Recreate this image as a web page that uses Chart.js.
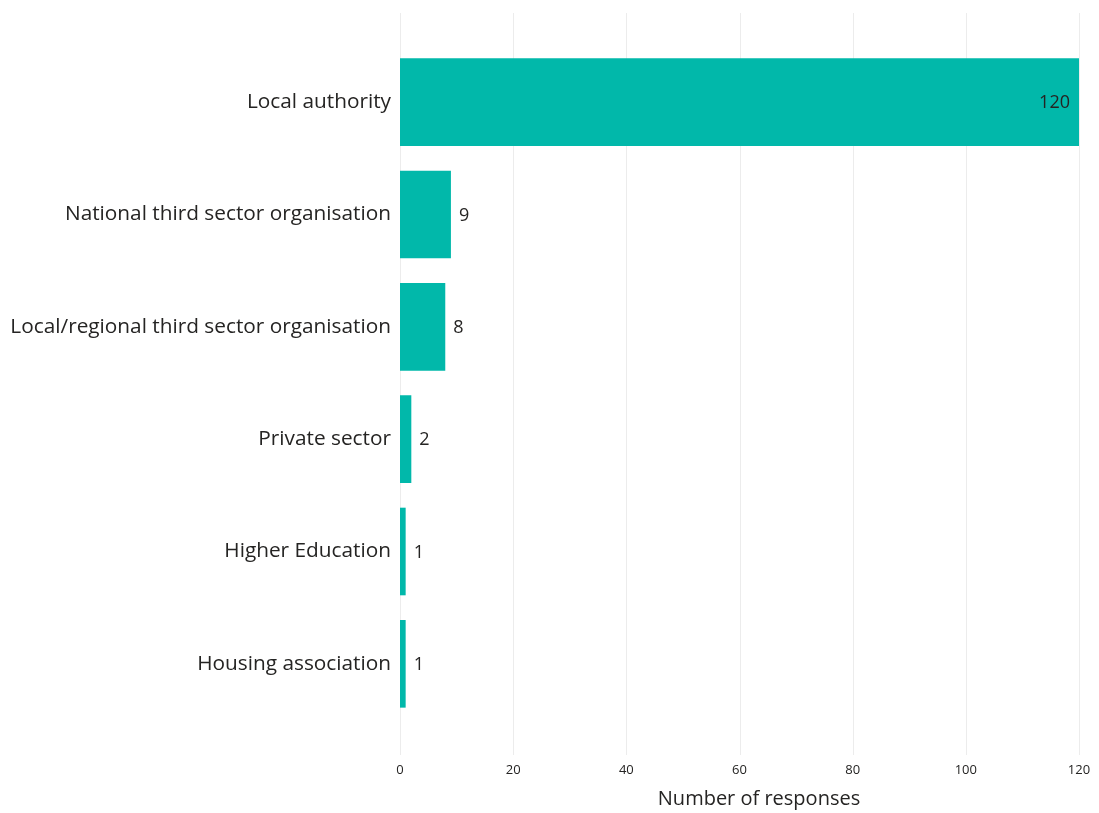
<!DOCTYPE html>
<html>
<head>
<meta charset="utf-8">
<script src="https://cdn.jsdelivr.net/npm/chart.js@4.4.1/dist/chart.umd.min.js"></script>
<style>
  html, body { margin: 0; padding: 0; background: #fff; }
  #wrap { width: 1099px; height: 813px; }
</style>
</head>
<body>
<div id="wrap"><canvas id="BarGraph" width="1099" height="813"></canvas></div>
<script>
// Respondent types and number of responses
var categories = [
    'Local authority',
    'National third sector organisation',
    'Local/regional third sector organisation',
    'Private sector',
    'Higher Education',
    'Housing association'
];
var responses = [120, 9, 8, 2, 1, 1];
var xTicks = [0, 20, 40, 60, 80, 100, 120];
var xTitle = 'Number of responses';

var FONT = "'Segoe UI', 'Open Sans', sans-serif";
var TEXT = '#252423';

// vertical gridlines that run a little past the bars at top and bottom
var gridPlugin = {
    id: 'longGrid',
    beforeDatasetsDraw: function(chart) {
        var c = chart.ctx, xs = chart.scales.x, area = chart.chartArea;
        c.save();
        c.strokeStyle = '#ececec';
        c.lineWidth = 1;
        xs.ticks.forEach(function(t) {
            var px = Math.round(xs.getPixelForValue(t.value)) + 0.5;
            c.beginPath();
            c.moveTo(px, area.top - 33);
            c.lineTo(px, area.bottom + 35);
            c.stroke();
        });
        c.restore();
    }
};

// value labels: inside the end of a long bar, just past the end otherwise
var labelPlugin = {
    id: 'valueLabels',
    afterDatasetsDraw: function(chart) {
        var c = chart.ctx;
        var meta = chart.getDatasetMeta(0);
        c.save();
        c.font = '18px ' + FONT;
        c.fillStyle = TEXT;
        c.textBaseline = 'middle';
        meta.data.forEach(function(bar, i) {
            var v = responses[i];
            if (bar.x - bar.base > 60) {
                c.textAlign = 'right';
                c.fillText(String(v), bar.x - 9, bar.y + 1);
            } else {
                c.textAlign = 'left';
                c.fillText(String(v), bar.x + 8, bar.y + 1);
            }
        });
        c.restore();
    }
};

// axis title, sitting under the tick labels
var titlePlugin = {
    id: 'xTitle',
    afterDraw: function(chart) {
        var c = chart.ctx;
        c.save();
        c.font = '20px ' + FONT;
        c.fillStyle = TEXT;
        c.textAlign = 'center';
        c.textBaseline = 'middle';
        c.fillText(xTitle, 759, 799);
        c.restore();
    }
};

var ctx = document.getElementById('BarGraph').getContext('2d');
var chart = new Chart(ctx, {
    type: 'bar',
    data: {
        labels: categories,
        datasets: [{
            data: responses,
            backgroundColor: '#01B8AA',
            borderWidth: 0,
            categoryPercentage: 0.78,
            barPercentage: 1
        }]
    },
    plugins: [gridPlugin, labelPlugin, titlePlugin],
    options: {
        indexAxis: 'y',
        responsive: false,
        animation: false,
        layout: { padding: { top: 46, right: 20, left: 0, bottom: 0 } },
        plugins: {
            legend: { display: false },
            tooltip: { enabled: false }
        },
        scales: {
            x: {
                min: 0,
                max: 120,
                afterBuildTicks: function(scale) {
                    scale.ticks = xTicks.map(function(v) { return { value: v }; });
                },
                afterFit: function(scale) {
                    scale.height = 93;
                    scale.paddingLeft = 0;
                    scale.paddingRight = 0;
                },
                grid: { display: false, drawTicks: false },
                border: { display: false },
                ticks: {
                    padding: 42,
                    maxRotation: 0,
                    color: TEXT,
                    font: { family: FONT, size: 13 }
                }
            },
            y: {
                afterFit: function(scale) { scale.width = 400; },
                grid: { display: false, drawTicks: false },
                border: { display: false },
                ticks: {
                    padding: 9,
                    color: TEXT,
                    font: { family: FONT, size: 20.8 }
                }
            }
        }
    }
});
</script>
</body>
</html>
